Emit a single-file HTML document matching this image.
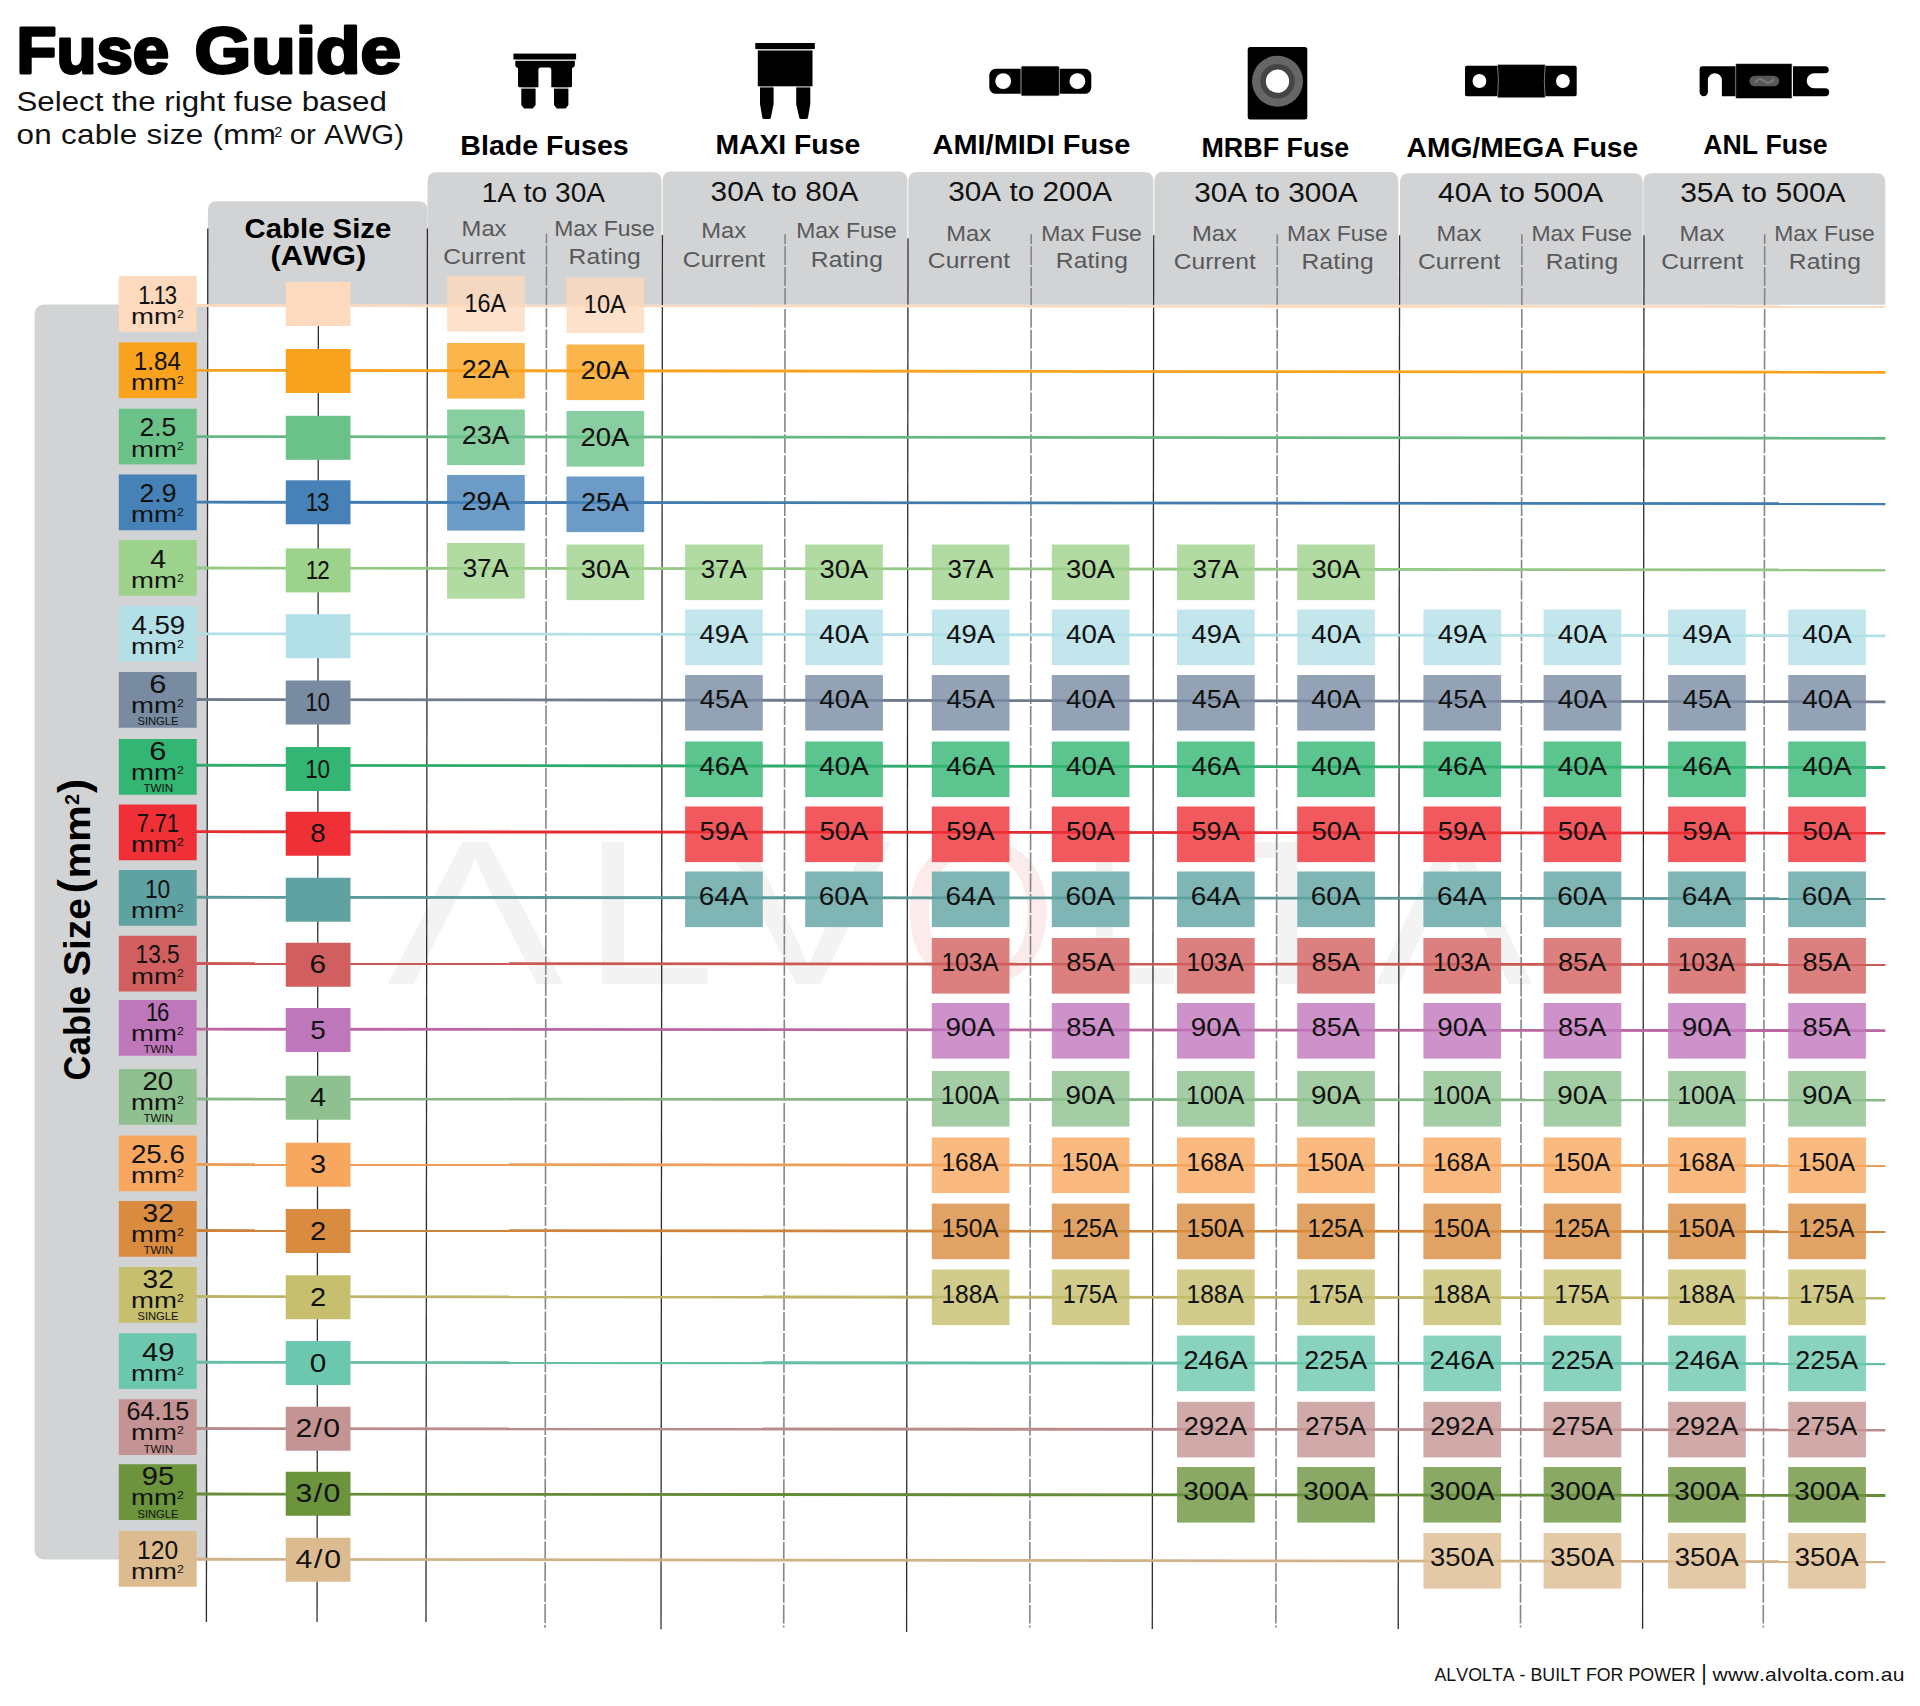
<!DOCTYPE html>
<html lang="en">
<head>
<meta charset="utf-8">
<title>Fuse Guide</title>
<style>
html,body{margin:0;padding:0;background:#fff;}
body{width:1920px;height:1706px;overflow:hidden;font-family:"Liberation Sans",Arial,sans-serif;}
svg text{font-kerning:none;white-space:pre;}
</style>
</head>
<body>
<svg width="1920" height="1706" viewBox="0 0 1920 1706" font-family="'Liberation Sans', Arial, sans-serif" style="display:block;font-kerning:none">
<rect x="0" y="0" width="1920" height="1706" fill="#fff"/>
<g fill="#D1D3D4">
<rect x="34.6" y="304.6" width="173" height="1254.8" rx="9" ry="9"/>
<rect x="190" y="304.6" width="17.6" height="1254.8"/>
<path d="M207.90 304.80 V210.20 Q207.90 201.20 216.90 201.20 H418.50 Q427.50 201.20 427.50 210.20 V304.80 Z"/>
<path d="M427.50 304.80 V181.30 Q427.50 172.30 436.50 172.30 H652.60 Q661.60 172.30 661.60 181.30 V304.80 Z"/>
<path d="M662.70 304.80 V180.50 Q662.70 171.50 671.70 171.50 H898.30 Q907.30 171.50 907.30 180.50 V304.80 Z"/>
<path d="M908.30 304.80 V181.00 Q908.30 172.00 917.30 172.00 H1144.30 Q1153.30 172.00 1153.30 181.00 V304.80 Z"/>
<path d="M1154.30 304.80 V181.00 Q1154.30 172.00 1163.30 172.00 H1389.30 Q1398.30 172.00 1398.30 181.00 V304.80 Z"/>
<path d="M1400.00 304.80 V182.30 Q1400.00 173.30 1409.00 173.30 H1633.70 Q1642.70 173.30 1642.70 182.30 V304.80 Z"/>
<path d="M1643.30 304.80 V182.30 Q1643.30 173.30 1652.30 173.30 H1876.30 Q1885.30 173.30 1885.30 182.30 V304.80 Z"/>
</g>
<text transform="translate(386.20 984.00) scale(1.2918 1)" font-size="206.40" font-weight="400" fill="#F3F3F4">Λ</text>
<text transform="translate(582.37 984.00) scale(1.1593 1)" font-size="206.40" font-weight="400" fill="#F3F3F4">L</text>
<text transform="translate(724.50 984.00) scale(1.2175 1)" font-size="206.40" font-weight="400" fill="#F3F3F4">V</text>
<text transform="translate(900.53 984.00) scale(0.9688 1)" font-size="206.40" font-weight="400" fill="#FCEBEB">O</text>
<text transform="translate(1081.49 984.00) scale(0.8571 1)" font-size="206.40" font-weight="400" fill="#F3F3F4">L</text>
<text transform="translate(1216.67 984.00) scale(1.1071 1)" font-size="206.40" font-weight="400" fill="#F3F3F4">T</text>
<text transform="translate(1374.64 984.00) scale(1.1483 1)" font-size="206.40" font-weight="400" fill="#F3F3F4">Λ</text>
<g stroke="#2e2e30" stroke-width="1.3" fill="none">
<line x1="207.80" y1="228.40" x2="206.40" y2="1622.00"/>
<line x1="318.40" y1="300.00" x2="317.07" y2="1622.00"/>
<line x1="427.40" y1="228.40" x2="426.00" y2="1622.00"/>
<line x1="546.50" y1="233.70" x2="545.10" y2="1627.70" stroke="#85868a" stroke-width="1.6" stroke-dasharray="18.9 2" stroke-dashoffset="9"/>
<line x1="662.40" y1="235.00" x2="661.00" y2="1629.30"/>
<line x1="785.10" y1="234.30" x2="783.70" y2="1627.50" stroke="#85868a" stroke-width="1.6" stroke-dasharray="18.9 2" stroke-dashoffset="9"/>
<line x1="908.00" y1="238.30" x2="906.60" y2="1632.00"/>
<line x1="1031.20" y1="234.30" x2="1029.80" y2="1627.50" stroke="#85868a" stroke-width="1.6" stroke-dasharray="18.9 2" stroke-dashoffset="9"/>
<line x1="1153.70" y1="235.30" x2="1152.30" y2="1629.00"/>
<line x1="1277.30" y1="234.30" x2="1275.90" y2="1627.50" stroke="#85868a" stroke-width="1.6" stroke-dasharray="18.9 2" stroke-dashoffset="9"/>
<line x1="1399.60" y1="235.30" x2="1398.20" y2="1629.00"/>
<line x1="1521.90" y1="234.30" x2="1520.50" y2="1627.50" stroke="#85868a" stroke-width="1.6" stroke-dasharray="18.9 2" stroke-dashoffset="9"/>
<line x1="1644.00" y1="235.30" x2="1642.60" y2="1628.80"/>
<line x1="1764.70" y1="234.30" x2="1763.30" y2="1627.50" stroke="#85868a" stroke-width="1.6" stroke-dasharray="18.9 2" stroke-dashoffset="9"/>
</g>
<g fill="#fff">
<rect x="685.10" y="806.50" width="77.70" height="55.60"/>
<rect x="805.20" y="806.50" width="77.70" height="55.60"/>
<rect x="685.10" y="871.50" width="77.70" height="55.60"/>
<rect x="805.20" y="871.50" width="77.70" height="55.60"/>
<rect x="931.80" y="806.50" width="77.70" height="55.60"/>
<rect x="1051.80" y="806.50" width="77.70" height="55.60"/>
<rect x="931.80" y="871.50" width="77.70" height="55.60"/>
<rect x="1051.80" y="871.50" width="77.70" height="55.60"/>
<rect x="931.80" y="938.00" width="77.70" height="55.60"/>
<rect x="1051.80" y="938.00" width="77.70" height="55.60"/>
<rect x="1177.00" y="806.50" width="77.70" height="55.60"/>
<rect x="1297.20" y="806.50" width="77.70" height="55.60"/>
<rect x="1177.00" y="871.50" width="77.70" height="55.60"/>
<rect x="1297.20" y="871.50" width="77.70" height="55.60"/>
<rect x="1177.00" y="938.00" width="77.70" height="55.60"/>
<rect x="1297.20" y="938.00" width="77.70" height="55.60"/>
<rect x="1423.40" y="806.50" width="77.70" height="55.60"/>
<rect x="1543.60" y="806.50" width="77.70" height="55.60"/>
<rect x="1423.40" y="871.50" width="77.70" height="55.60"/>
<rect x="1543.60" y="871.50" width="77.70" height="55.60"/>
<rect x="1423.40" y="938.00" width="77.70" height="55.60"/>
<rect x="1543.60" y="938.00" width="77.70" height="55.60"/>
<rect x="1668.10" y="806.50" width="77.70" height="55.60"/>
<rect x="1788.20" y="806.50" width="77.70" height="55.60"/>
<rect x="1668.10" y="871.50" width="77.70" height="55.60"/>
<rect x="1788.20" y="871.50" width="77.70" height="55.60"/>
<rect x="1668.10" y="938.00" width="77.70" height="55.60"/>
<rect x="1788.20" y="938.00" width="77.70" height="55.60"/>
</g>
<g stroke-width="2.8" fill="none">
<line x1="196" y1="305.60" x2="1885.4" y2="306.60" stroke="#FDD9BD"/>
<line x1="196" y1="370.40" x2="1885.4" y2="372.25" stroke="#F9A21E"/>
<line x1="196" y1="436.60" x2="1885.4" y2="438.25" stroke="#65B882"/>
<line x1="196" y1="502.20" x2="1885.4" y2="503.75" stroke="#427BAE"/>
<line x1="196" y1="568.00" x2="1885.4" y2="570.00" stroke="#95C785"/>
<line x1="196" y1="633.80" x2="1885.4" y2="635.80" stroke="#B3E0E7"/>
<line x1="196" y1="699.50" x2="1885.4" y2="701.80" stroke="#6F7B8D"/>
<line x1="196" y1="765.25" x2="1885.4" y2="767.50" stroke="#30AB6D"/>
<line x1="196" y1="831.70" x2="1885.4" y2="833.20" stroke="#E32D33"/>
<line x1="196" y1="897.25" x2="1885.4" y2="898.70" stroke="#5A9998"/>
<line x1="196" y1="963.50" x2="1885.4" y2="964.60" stroke="#CB5A57"/>
<line x1="196" y1="1029.20" x2="1885.4" y2="1030.60" stroke="#BA669F"/>
<line x1="196" y1="1099.00" x2="1885.4" y2="1100.00" stroke="#87B687"/>
<line x1="196" y1="1164.50" x2="1885.4" y2="1165.70" stroke="#EB9E5A"/>
<line x1="196" y1="1230.50" x2="1885.4" y2="1231.60" stroke="#CE853B"/>
<line x1="196" y1="1296.50" x2="1885.4" y2="1298.00" stroke="#BCB568"/>
<line x1="196" y1="1362.25" x2="1885.4" y2="1363.75" stroke="#65BEA5"/>
<line x1="196" y1="1428.50" x2="1885.4" y2="1430.00" stroke="#BA8B8B"/>
<line x1="196" y1="1494.00" x2="1885.4" y2="1495.50" stroke="#658C39"/>
<line x1="196" y1="1559.25" x2="1885.4" y2="1561.75" stroke="#D1B188"/>
</g>
<rect x="118.80" y="276.00" width="77.90" height="55.75" fill="#FDD9BD"/>
<rect x="285.75" y="282.00" width="64.75" height="44.00" fill="#FDD9BD"/>
<rect x="118.80" y="342.40" width="77.90" height="55.75" fill="#F9A21E"/>
<rect x="285.75" y="349.00" width="64.75" height="44.00" fill="#F9A21E"/>
<rect x="118.80" y="408.70" width="77.90" height="55.75" fill="#6BC289"/>
<rect x="285.75" y="415.80" width="64.75" height="44.00" fill="#6BC289"/>
<rect x="118.80" y="474.50" width="77.90" height="55.75" fill="#4682B8"/>
<rect x="285.75" y="480.30" width="64.75" height="44.00" fill="#4682B8"/>
<rect x="118.80" y="540.00" width="77.90" height="55.75" fill="#9DD28C"/>
<rect x="285.75" y="548.40" width="64.75" height="44.00" fill="#9DD28C"/>
<rect x="118.80" y="606.00" width="77.90" height="55.75" fill="#B3E0E7"/>
<rect x="285.75" y="614.20" width="64.75" height="44.00" fill="#B3E0E7"/>
<rect x="118.80" y="672.00" width="77.90" height="55.75" fill="#788BA1"/>
<rect x="285.75" y="680.50" width="64.75" height="44.00" fill="#788BA1"/>
<rect x="118.80" y="739.00" width="77.90" height="55.75" fill="#33B573"/>
<rect x="285.75" y="747.00" width="64.75" height="44.00" fill="#33B573"/>
<rect x="118.80" y="804.50" width="77.90" height="55.75" fill="#EF3036"/>
<rect x="285.75" y="811.75" width="64.75" height="44.00" fill="#EF3036"/>
<rect x="118.80" y="870.00" width="77.90" height="55.75" fill="#5FA2A1"/>
<rect x="285.75" y="877.75" width="64.75" height="44.00" fill="#5FA2A1"/>
<rect x="118.80" y="935.75" width="77.90" height="55.75" fill="#D25F5F"/>
<rect x="285.75" y="942.75" width="64.75" height="44.00" fill="#D25F5F"/>
<rect x="118.80" y="1000.00" width="77.90" height="55.75" fill="#BF77BC"/>
<rect x="285.75" y="1008.00" width="64.75" height="44.00" fill="#BF77BC"/>
<rect x="118.80" y="1069.00" width="77.90" height="55.75" fill="#8FC08F"/>
<rect x="285.75" y="1075.75" width="64.75" height="44.00" fill="#8FC08F"/>
<rect x="118.80" y="1135.50" width="77.90" height="55.75" fill="#F8A75F"/>
<rect x="285.75" y="1142.75" width="64.75" height="44.00" fill="#F8A75F"/>
<rect x="118.80" y="1201.00" width="77.90" height="55.75" fill="#D98C3F"/>
<rect x="285.75" y="1209.00" width="64.75" height="44.00" fill="#D98C3F"/>
<rect x="118.80" y="1267.00" width="77.90" height="55.75" fill="#C6BF6E"/>
<rect x="285.75" y="1275.25" width="64.75" height="44.00" fill="#C6BF6E"/>
<rect x="118.80" y="1333.25" width="77.90" height="55.75" fill="#6BC8AE"/>
<rect x="285.75" y="1341.00" width="64.75" height="44.00" fill="#6BC8AE"/>
<rect x="118.80" y="1399.25" width="77.90" height="55.75" fill="#C49393"/>
<rect x="285.75" y="1406.75" width="64.75" height="44.00" fill="#C49393"/>
<rect x="118.80" y="1464.25" width="77.90" height="55.75" fill="#6B943D"/>
<rect x="285.75" y="1471.75" width="64.75" height="44.00" fill="#6B943D"/>
<rect x="118.80" y="1531.00" width="77.90" height="55.75" fill="#DDBB90"/>
<rect x="285.75" y="1537.75" width="64.75" height="44.00" fill="#DDBB90"/>
<g fill-opacity="0.8">
<rect x="447.10" y="276.00" width="77.70" height="55.60" fill="#FDD9BD"/>
<rect x="566.50" y="277.50" width="77.70" height="55.60" fill="#FDD9BD"/>
<rect x="447.10" y="343.00" width="77.70" height="55.60" fill="#F9A21E"/>
<rect x="566.50" y="344.50" width="77.70" height="55.60" fill="#F9A21E"/>
<rect x="447.10" y="409.50" width="77.70" height="55.60" fill="#6BC289"/>
<rect x="566.50" y="411.00" width="77.70" height="55.60" fill="#6BC289"/>
<rect x="447.10" y="475.00" width="77.70" height="55.60" fill="#4682B8"/>
<rect x="566.50" y="476.50" width="77.70" height="55.60" fill="#4682B8"/>
<rect x="447.10" y="543.00" width="77.70" height="55.60" fill="#9DD28C"/>
<rect x="566.50" y="544.50" width="77.70" height="55.60" fill="#9DD28C"/>
<rect x="685.10" y="544.50" width="77.70" height="55.60" fill="#9DD28C"/>
<rect x="805.20" y="544.50" width="77.70" height="55.60" fill="#9DD28C"/>
<rect x="685.10" y="609.50" width="77.70" height="55.60" fill="#B3E0E7"/>
<rect x="805.20" y="609.50" width="77.70" height="55.60" fill="#B3E0E7"/>
<rect x="685.10" y="675.00" width="77.70" height="55.60" fill="#788BA1"/>
<rect x="805.20" y="675.00" width="77.70" height="55.60" fill="#788BA1"/>
<rect x="685.10" y="741.50" width="77.70" height="55.60" fill="#33B573"/>
<rect x="805.20" y="741.50" width="77.70" height="55.60" fill="#33B573"/>
<rect x="685.10" y="806.50" width="77.70" height="55.60" fill="#EF3036"/>
<rect x="805.20" y="806.50" width="77.70" height="55.60" fill="#EF3036"/>
<rect x="685.10" y="871.50" width="77.70" height="55.60" fill="#5FA2A1"/>
<rect x="805.20" y="871.50" width="77.70" height="55.60" fill="#5FA2A1"/>
<rect x="931.80" y="544.50" width="77.70" height="55.60" fill="#9DD28C"/>
<rect x="1051.80" y="544.50" width="77.70" height="55.60" fill="#9DD28C"/>
<rect x="931.80" y="609.50" width="77.70" height="55.60" fill="#B3E0E7"/>
<rect x="1051.80" y="609.50" width="77.70" height="55.60" fill="#B3E0E7"/>
<rect x="931.80" y="675.00" width="77.70" height="55.60" fill="#788BA1"/>
<rect x="1051.80" y="675.00" width="77.70" height="55.60" fill="#788BA1"/>
<rect x="931.80" y="741.50" width="77.70" height="55.60" fill="#33B573"/>
<rect x="1051.80" y="741.50" width="77.70" height="55.60" fill="#33B573"/>
<rect x="931.80" y="806.50" width="77.70" height="55.60" fill="#EF3036"/>
<rect x="1051.80" y="806.50" width="77.70" height="55.60" fill="#EF3036"/>
<rect x="931.80" y="871.50" width="77.70" height="55.60" fill="#5FA2A1"/>
<rect x="1051.80" y="871.50" width="77.70" height="55.60" fill="#5FA2A1"/>
<rect x="931.80" y="938.00" width="77.70" height="55.60" fill="#D25F5F"/>
<rect x="1051.80" y="938.00" width="77.70" height="55.60" fill="#D25F5F"/>
<rect x="931.80" y="1003.00" width="77.70" height="55.60" fill="#BF77BC"/>
<rect x="1051.80" y="1003.00" width="77.70" height="55.60" fill="#BF77BC"/>
<rect x="931.80" y="1071.00" width="77.70" height="55.60" fill="#8FC08F"/>
<rect x="1051.80" y="1071.00" width="77.70" height="55.60" fill="#8FC08F"/>
<rect x="931.80" y="1137.50" width="77.70" height="55.60" fill="#F8A75F"/>
<rect x="1051.80" y="1137.50" width="77.70" height="55.60" fill="#F8A75F"/>
<rect x="931.80" y="1203.60" width="77.70" height="55.60" fill="#D98C3F"/>
<rect x="1051.80" y="1203.60" width="77.70" height="55.60" fill="#D98C3F"/>
<rect x="931.80" y="1269.50" width="77.70" height="55.60" fill="#C6BF6E"/>
<rect x="1051.80" y="1269.50" width="77.70" height="55.60" fill="#C6BF6E"/>
<rect x="1177.00" y="544.50" width="77.70" height="55.60" fill="#9DD28C"/>
<rect x="1297.20" y="544.50" width="77.70" height="55.60" fill="#9DD28C"/>
<rect x="1177.00" y="609.50" width="77.70" height="55.60" fill="#B3E0E7"/>
<rect x="1297.20" y="609.50" width="77.70" height="55.60" fill="#B3E0E7"/>
<rect x="1177.00" y="675.00" width="77.70" height="55.60" fill="#788BA1"/>
<rect x="1297.20" y="675.00" width="77.70" height="55.60" fill="#788BA1"/>
<rect x="1177.00" y="741.50" width="77.70" height="55.60" fill="#33B573"/>
<rect x="1297.20" y="741.50" width="77.70" height="55.60" fill="#33B573"/>
<rect x="1177.00" y="806.50" width="77.70" height="55.60" fill="#EF3036"/>
<rect x="1297.20" y="806.50" width="77.70" height="55.60" fill="#EF3036"/>
<rect x="1177.00" y="871.50" width="77.70" height="55.60" fill="#5FA2A1"/>
<rect x="1297.20" y="871.50" width="77.70" height="55.60" fill="#5FA2A1"/>
<rect x="1177.00" y="938.00" width="77.70" height="55.60" fill="#D25F5F"/>
<rect x="1297.20" y="938.00" width="77.70" height="55.60" fill="#D25F5F"/>
<rect x="1177.00" y="1003.00" width="77.70" height="55.60" fill="#BF77BC"/>
<rect x="1297.20" y="1003.00" width="77.70" height="55.60" fill="#BF77BC"/>
<rect x="1177.00" y="1071.00" width="77.70" height="55.60" fill="#8FC08F"/>
<rect x="1297.20" y="1071.00" width="77.70" height="55.60" fill="#8FC08F"/>
<rect x="1177.00" y="1137.50" width="77.70" height="55.60" fill="#F8A75F"/>
<rect x="1297.20" y="1137.50" width="77.70" height="55.60" fill="#F8A75F"/>
<rect x="1177.00" y="1203.60" width="77.70" height="55.60" fill="#D98C3F"/>
<rect x="1297.20" y="1203.60" width="77.70" height="55.60" fill="#D98C3F"/>
<rect x="1177.00" y="1269.50" width="77.70" height="55.60" fill="#C6BF6E"/>
<rect x="1297.20" y="1269.50" width="77.70" height="55.60" fill="#C6BF6E"/>
<rect x="1177.00" y="1335.60" width="77.70" height="55.60" fill="#6BC8AE"/>
<rect x="1297.20" y="1335.60" width="77.70" height="55.60" fill="#6BC8AE"/>
<rect x="1177.00" y="1401.80" width="77.70" height="55.60" fill="#C49393"/>
<rect x="1297.20" y="1401.80" width="77.70" height="55.60" fill="#C49393"/>
<rect x="1177.00" y="1467.00" width="77.70" height="55.60" fill="#6B943D"/>
<rect x="1297.20" y="1467.00" width="77.70" height="55.60" fill="#6B943D"/>
<rect x="1423.40" y="609.50" width="77.70" height="55.60" fill="#B3E0E7"/>
<rect x="1543.60" y="609.50" width="77.70" height="55.60" fill="#B3E0E7"/>
<rect x="1423.40" y="675.00" width="77.70" height="55.60" fill="#788BA1"/>
<rect x="1543.60" y="675.00" width="77.70" height="55.60" fill="#788BA1"/>
<rect x="1423.40" y="741.50" width="77.70" height="55.60" fill="#33B573"/>
<rect x="1543.60" y="741.50" width="77.70" height="55.60" fill="#33B573"/>
<rect x="1423.40" y="806.50" width="77.70" height="55.60" fill="#EF3036"/>
<rect x="1543.60" y="806.50" width="77.70" height="55.60" fill="#EF3036"/>
<rect x="1423.40" y="871.50" width="77.70" height="55.60" fill="#5FA2A1"/>
<rect x="1543.60" y="871.50" width="77.70" height="55.60" fill="#5FA2A1"/>
<rect x="1423.40" y="938.00" width="77.70" height="55.60" fill="#D25F5F"/>
<rect x="1543.60" y="938.00" width="77.70" height="55.60" fill="#D25F5F"/>
<rect x="1423.40" y="1003.00" width="77.70" height="55.60" fill="#BF77BC"/>
<rect x="1543.60" y="1003.00" width="77.70" height="55.60" fill="#BF77BC"/>
<rect x="1423.40" y="1071.00" width="77.70" height="55.60" fill="#8FC08F"/>
<rect x="1543.60" y="1071.00" width="77.70" height="55.60" fill="#8FC08F"/>
<rect x="1423.40" y="1137.50" width="77.70" height="55.60" fill="#F8A75F"/>
<rect x="1543.60" y="1137.50" width="77.70" height="55.60" fill="#F8A75F"/>
<rect x="1423.40" y="1203.60" width="77.70" height="55.60" fill="#D98C3F"/>
<rect x="1543.60" y="1203.60" width="77.70" height="55.60" fill="#D98C3F"/>
<rect x="1423.40" y="1269.50" width="77.70" height="55.60" fill="#C6BF6E"/>
<rect x="1543.60" y="1269.50" width="77.70" height="55.60" fill="#C6BF6E"/>
<rect x="1423.40" y="1335.60" width="77.70" height="55.60" fill="#6BC8AE"/>
<rect x="1543.60" y="1335.60" width="77.70" height="55.60" fill="#6BC8AE"/>
<rect x="1423.40" y="1401.80" width="77.70" height="55.60" fill="#C49393"/>
<rect x="1543.60" y="1401.80" width="77.70" height="55.60" fill="#C49393"/>
<rect x="1423.40" y="1467.00" width="77.70" height="55.60" fill="#6B943D"/>
<rect x="1543.60" y="1467.00" width="77.70" height="55.60" fill="#6B943D"/>
<rect x="1423.40" y="1533.00" width="77.70" height="55.60" fill="#DDBB90"/>
<rect x="1543.60" y="1533.00" width="77.70" height="55.60" fill="#DDBB90"/>
<rect x="1668.10" y="609.50" width="77.70" height="55.60" fill="#B3E0E7"/>
<rect x="1788.20" y="609.50" width="77.70" height="55.60" fill="#B3E0E7"/>
<rect x="1668.10" y="675.00" width="77.70" height="55.60" fill="#788BA1"/>
<rect x="1788.20" y="675.00" width="77.70" height="55.60" fill="#788BA1"/>
<rect x="1668.10" y="741.50" width="77.70" height="55.60" fill="#33B573"/>
<rect x="1788.20" y="741.50" width="77.70" height="55.60" fill="#33B573"/>
<rect x="1668.10" y="806.50" width="77.70" height="55.60" fill="#EF3036"/>
<rect x="1788.20" y="806.50" width="77.70" height="55.60" fill="#EF3036"/>
<rect x="1668.10" y="871.50" width="77.70" height="55.60" fill="#5FA2A1"/>
<rect x="1788.20" y="871.50" width="77.70" height="55.60" fill="#5FA2A1"/>
<rect x="1668.10" y="938.00" width="77.70" height="55.60" fill="#D25F5F"/>
<rect x="1788.20" y="938.00" width="77.70" height="55.60" fill="#D25F5F"/>
<rect x="1668.10" y="1003.00" width="77.70" height="55.60" fill="#BF77BC"/>
<rect x="1788.20" y="1003.00" width="77.70" height="55.60" fill="#BF77BC"/>
<rect x="1668.10" y="1071.00" width="77.70" height="55.60" fill="#8FC08F"/>
<rect x="1788.20" y="1071.00" width="77.70" height="55.60" fill="#8FC08F"/>
<rect x="1668.10" y="1137.50" width="77.70" height="55.60" fill="#F8A75F"/>
<rect x="1788.20" y="1137.50" width="77.70" height="55.60" fill="#F8A75F"/>
<rect x="1668.10" y="1203.60" width="77.70" height="55.60" fill="#D98C3F"/>
<rect x="1788.20" y="1203.60" width="77.70" height="55.60" fill="#D98C3F"/>
<rect x="1668.10" y="1269.50" width="77.70" height="55.60" fill="#C6BF6E"/>
<rect x="1788.20" y="1269.50" width="77.70" height="55.60" fill="#C6BF6E"/>
<rect x="1668.10" y="1335.60" width="77.70" height="55.60" fill="#6BC8AE"/>
<rect x="1788.20" y="1335.60" width="77.70" height="55.60" fill="#6BC8AE"/>
<rect x="1668.10" y="1401.80" width="77.70" height="55.60" fill="#C49393"/>
<rect x="1788.20" y="1401.80" width="77.70" height="55.60" fill="#C49393"/>
<rect x="1668.10" y="1467.00" width="77.70" height="55.60" fill="#6B943D"/>
<rect x="1788.20" y="1467.00" width="77.70" height="55.60" fill="#6B943D"/>
<rect x="1668.10" y="1533.00" width="77.70" height="55.60" fill="#DDBB90"/>
<rect x="1788.20" y="1533.00" width="77.70" height="55.60" fill="#DDBB90"/>
</g>
<g fill="#c9c9cb"><rect x="515.6" y="59" width="59" height="2.4"/><rect x="521.6" y="86.8" width="13.7" height="2.4"/><rect x="554.3" y="86.8" width="13.8" height="2.4"/><rect x="758" y="48.6" width="54.3" height="2.4"/><rect x="760.3" y="86" width="13" height="2"/><rect x="796.5" y="86" width="13.5" height="2"/></g>
<g fill="#000">
<rect x="513.4" y="53.6" width="62.7" height="5.8"/>
<path d="M515.3 61 H574.8 V65.5 Q574.8 67.3 572 68 V85.7 Q572 87.2 570.5 87.2 H551.3 V69.7 Q551.3 67.5 549.1 67.5 H540.6 Q538.4 67.5 538.4 69.7 V87.2 H519.5 Q518 87.2 518 85.7 V68 Q515.3 67.3 515.3 65.5 Z"/>
<path d="M521.3 88.7 H535.6 V105 L532.8 108.4 H524.1 L521.3 105 Z"/>
<path d="M554 88.7 H568.4 V105 L565.6 108.4 H556.8 L554 105 Z"/>
<rect x="755.3" y="43" width="59.5" height="6"/>
<rect x="757.8" y="50.6" width="54.7" height="35.7"/>
<path d="M760 87.5 H773.6 V104 L770.9 117.4 Q770.6 119 769 119 H764.2 Q762.6 119 762.3 117.4 L760 104 Z"/>
<path d="M796.2 87.5 H810.3 V104 L808 117.4 Q807.7 119 806.1 119 H801.1 Q799.5 119 799.2 117.4 L796.2 104 Z"/>
<rect x="989.3" y="68.8" width="102" height="25" rx="6.5"/>
<circle cx="1003.2" cy="81.2" r="7.9" fill="#fff"/><circle cx="1077.4" cy="81.2" r="7.9" fill="#fff"/>
<rect x="1021" y="66" width="38.4" height="30" rx="1.5" stroke="#ddd" stroke-width="0.7"/>
<rect x="1247.7" y="47" width="59.6" height="72.6" rx="2.5"/>
<circle cx="1277.5" cy="81.2" r="25.5" fill="#666668"/><circle cx="1277.5" cy="81.2" r="17.3" fill="#454547"/><circle cx="1277.5" cy="81.2" r="11.6" fill="#fff"/>
<rect x="1465" y="65.8" width="111.7" height="30.5" rx="1.8"/>
<circle cx="1479.4" cy="81" r="6.9" fill="#fff"/><circle cx="1562.9" cy="81" r="6.9" fill="#fff"/>
<path d="M1497.5 64.6 H1545.2 Q1543.4 81 1545.2 97.7 H1497.5 Q1499.3 81 1497.5 64.6 Z" stroke="#ccc" stroke-width="0.6"/>
<path d="M1702.6 66.25 H1736 V96.25 H1721.9 V80.3 A7 7 0 0 0 1707.9 80.3 V92.1 A4.15 4.15 0 0 1 1699.6 92.1 V69.25 Q1699.6 66.25 1702.6 66.25 Z"/>
<rect x="1735.8" y="63.75" width="56.2" height="34.6" stroke="#ccc" stroke-width="0.6"/>
<rect x="1749.4" y="75.8" width="29.8" height="10.5" rx="5.2" fill="#58585a"/>
<path d="M1755 83 Q1759 76.5 1764 81 T1774 79" stroke="#77777a" stroke-width="2.2" fill="none"/>
<path d="M1793 66.25 H1825.2 A3.52 3.52 0 0 1 1825.2 73.3 H1814.2 A7.5 7.5 0 0 0 1814.2 88.3 H1825.2 A3.97 3.97 0 0 1 1825.2 96.25 H1793 Z"/>
</g>
<text transform="translate(16.52 73.00) scale(1.0184 1)" font-size="64.25" font-weight="700" fill="#000" stroke="#000" stroke-width="2.8" stroke-linejoin="round">Fuse</text>
<text transform="translate(194.41 73.00) scale(1.1354 1)" font-size="64.25" font-weight="700" fill="#000" stroke="#000" stroke-width="2.8" stroke-linejoin="round">Guide</text>
<text transform="translate(16.48 110.80) scale(1.1575 1)" font-size="27.04" font-weight="400" fill="#111">Select the right fuse based</text>
<text transform="translate(16.58 143.60) scale(1.1600 1)" font-size="27.04" font-weight="400" fill="#111" letter-spacing="0.266">on cable size (mm</text>
<text transform="translate(274.27 136.70) scale(0.9967 1)" font-size="14.54" font-weight="400" fill="#111">2</text>
<text transform="translate(289.77 143.60) scale(1.0868 1)" font-size="27.04" font-weight="400" fill="#111">or AWG)</text>
<text transform="translate(460.29 155.10) scale(1.0411 1)" font-size="27.47" font-weight="700" fill="#000">Blade Fuses</text>
<text transform="translate(481.66 201.90) scale(1.0448 1)" font-size="26.89" font-weight="400" fill="#111">1A to 30A</text>
<text transform="translate(461.60 235.50) scale(1.1201 1)" font-size="21.22" font-weight="400" fill="#58595B">Max</text>
<text transform="translate(443.25 264.00) scale(1.1600 1)" font-size="21.22" font-weight="400" fill="#58595B" letter-spacing="0.021">Current</text>
<text transform="translate(554.17 235.50) scale(1.0798 1)" font-size="21.22" font-weight="400" fill="#58595B">Max Fuse</text>
<text transform="translate(568.53 264.00) scale(1.1600 1)" font-size="21.22" font-weight="400" fill="#58595B" letter-spacing="0.198">Rating</text>
<text transform="translate(715.40 154.00) scale(1.0316 1)" font-size="27.47" font-weight="700" fill="#000">MAXI Fuse</text>
<text transform="translate(710.56 201.00) scale(1.1108 1)" font-size="26.89" font-weight="400" fill="#111">30A to 80A</text>
<text transform="translate(701.20 238.30) scale(1.1201 1)" font-size="21.22" font-weight="400" fill="#58595B">Max</text>
<text transform="translate(682.85 266.70) scale(1.1600 1)" font-size="21.22" font-weight="400" fill="#58595B" letter-spacing="0.021">Current</text>
<text transform="translate(796.27 238.30) scale(1.0798 1)" font-size="21.22" font-weight="400" fill="#58595B">Max Fuse</text>
<text transform="translate(810.63 266.70) scale(1.1600 1)" font-size="21.22" font-weight="400" fill="#58595B" letter-spacing="0.198">Rating</text>
<text transform="translate(932.58 154.00) scale(1.0532 1)" font-size="27.47" font-weight="700" fill="#000">AMI/MIDI Fuse</text>
<text transform="translate(948.22 201.00) scale(1.1073 1)" font-size="26.89" font-weight="400" fill="#111">30A to 200A</text>
<text transform="translate(946.20 240.70) scale(1.1201 1)" font-size="21.22" font-weight="400" fill="#58595B">Max</text>
<text transform="translate(927.85 268.30) scale(1.1600 1)" font-size="21.22" font-weight="400" fill="#58595B" letter-spacing="0.021">Current</text>
<text transform="translate(1041.27 240.70) scale(1.0798 1)" font-size="21.22" font-weight="400" fill="#58595B">Max Fuse</text>
<text transform="translate(1055.63 268.30) scale(1.1600 1)" font-size="21.22" font-weight="400" fill="#58595B" letter-spacing="0.198">Rating</text>
<text transform="translate(1201.50 156.70) scale(0.9776 1)" font-size="27.47" font-weight="700" fill="#000">MRBF Fuse</text>
<text transform="translate(1194.17 201.70) scale(1.1052 1)" font-size="26.89" font-weight="400" fill="#111">30A to 300A</text>
<text transform="translate(1192.00 241.00) scale(1.1201 1)" font-size="21.22" font-weight="400" fill="#58595B">Max</text>
<text transform="translate(1173.65 268.50) scale(1.1600 1)" font-size="21.22" font-weight="400" fill="#58595B" letter-spacing="0.021">Current</text>
<text transform="translate(1287.07 241.00) scale(1.0798 1)" font-size="21.22" font-weight="400" fill="#58595B">Max Fuse</text>
<text transform="translate(1301.43 268.50) scale(1.1600 1)" font-size="21.22" font-weight="400" fill="#58595B" letter-spacing="0.198">Rating</text>
<text transform="translate(1406.60 157.00) scale(1.0256 1)" font-size="27.47" font-weight="700" fill="#000">AMG/MEGA Fuse</text>
<text transform="translate(1438.01 201.50) scale(1.1171 1)" font-size="26.89" font-weight="400" fill="#111">40A to 500A</text>
<text transform="translate(1436.40 241.30) scale(1.1201 1)" font-size="21.22" font-weight="400" fill="#58595B">Max</text>
<text transform="translate(1418.05 269.30) scale(1.1600 1)" font-size="21.22" font-weight="400" fill="#58595B" letter-spacing="0.021">Current</text>
<text transform="translate(1531.47 241.30) scale(1.0798 1)" font-size="21.22" font-weight="400" fill="#58595B">Max Fuse</text>
<text transform="translate(1545.83 269.30) scale(1.1600 1)" font-size="21.22" font-weight="400" fill="#58595B" letter-spacing="0.198">Rating</text>
<text transform="translate(1703.29 154.00) scale(0.9693 1)" font-size="27.47" font-weight="700" fill="#000">ANL Fuse</text>
<text transform="translate(1680.15 201.50) scale(1.1189 1)" font-size="26.89" font-weight="400" fill="#111">35A to 500A</text>
<text transform="translate(1679.50 241.30) scale(1.1201 1)" font-size="21.22" font-weight="400" fill="#58595B">Max</text>
<text transform="translate(1661.15 269.30) scale(1.1600 1)" font-size="21.22" font-weight="400" fill="#58595B" letter-spacing="0.021">Current</text>
<text transform="translate(1774.27 241.30) scale(1.0798 1)" font-size="21.22" font-weight="400" fill="#58595B">Max Fuse</text>
<text transform="translate(1788.63 269.30) scale(1.1600 1)" font-size="21.22" font-weight="400" fill="#58595B" letter-spacing="0.198">Rating</text>
<text transform="translate(244.60 238.40) scale(1.0676 1)" font-size="27.47" font-weight="700" fill="#000">Cable Size</text>
<text transform="translate(270.46 264.60) scale(1.1222 1)" font-size="27.47" font-weight="700" fill="#000">(AWG)</text>
<text transform="translate(138.26 303.70) scale(0.8600 1)" font-size="25.73" font-weight="400" fill="#111" letter-spacing="-1.669">1.13</text>
<text transform="translate(130.97 323.90) scale(1.3000 1)" font-size="21.20" font-weight="400" fill="#111" letter-spacing="0.024">mm</text>
<text transform="translate(176.98 317.70) scale(1.1128 1)" font-size="11.05" font-weight="400" fill="#111">2</text>
<text transform="translate(133.85 370.10) scale(0.9417 1)" font-size="25.73" font-weight="400" fill="#111">1.84</text>
<text transform="translate(130.97 390.30) scale(1.3000 1)" font-size="21.20" font-weight="400" fill="#111" letter-spacing="0.024">mm</text>
<text transform="translate(176.98 384.10) scale(1.1128 1)" font-size="11.05" font-weight="400" fill="#111">2</text>
<text transform="translate(139.52 436.40) scale(1.0273 1)" font-size="25.73" font-weight="400" fill="#111">2.5</text>
<text transform="translate(130.97 456.60) scale(1.3000 1)" font-size="21.20" font-weight="400" fill="#111" letter-spacing="0.024">mm</text>
<text transform="translate(176.98 450.40) scale(1.1128 1)" font-size="11.05" font-weight="400" fill="#111">2</text>
<text transform="translate(139.52 502.20) scale(1.0315 1)" font-size="25.73" font-weight="400" fill="#111">2.9</text>
<text transform="translate(130.97 522.40) scale(1.3000 1)" font-size="21.20" font-weight="400" fill="#111" letter-spacing="0.024">mm</text>
<text transform="translate(176.98 516.20) scale(1.1128 1)" font-size="11.05" font-weight="400" fill="#111">2</text>
<text transform="translate(305.80 510.80) scale(0.8600 1)" font-size="26.02" font-weight="400" fill="#111" letter-spacing="-1.396">13</text>
<text transform="translate(150.14 567.70) scale(1.1108 1)" font-size="25.73" font-weight="400" fill="#111">4</text>
<text transform="translate(130.97 587.90) scale(1.3000 1)" font-size="21.20" font-weight="400" fill="#111" letter-spacing="0.024">mm</text>
<text transform="translate(176.98 581.70) scale(1.1128 1)" font-size="11.05" font-weight="400" fill="#111">2</text>
<text transform="translate(305.80 578.90) scale(0.8600 1)" font-size="26.02" font-weight="400" fill="#111" letter-spacing="-1.231">12</text>
<text transform="translate(131.42 633.70) scale(1.0753 1)" font-size="25.73" font-weight="400" fill="#111">4.59</text>
<text transform="translate(130.97 653.90) scale(1.3000 1)" font-size="21.20" font-weight="400" fill="#111" letter-spacing="0.024">mm</text>
<text transform="translate(176.98 647.70) scale(1.1128 1)" font-size="11.05" font-weight="400" fill="#111">2</text>
<text transform="translate(149.34 692.90) scale(1.1962 1)" font-size="25.73" font-weight="400" fill="#111">6</text>
<text transform="translate(130.97 713.20) scale(1.3000 1)" font-size="21.20" font-weight="400" fill="#111" letter-spacing="0.024">mm</text>
<text transform="translate(176.98 707.00) scale(1.1128 1)" font-size="11.05" font-weight="400" fill="#111">2</text>
<text transform="translate(137.49 725.40) scale(1.0389 1)" font-size="10.76" font-weight="400" fill="#111">SINGLE</text>
<text transform="translate(305.30 711.00) scale(0.8600 1)" font-size="26.02" font-weight="400" fill="#111" letter-spacing="-0.360">10</text>
<text transform="translate(149.34 759.90) scale(1.1962 1)" font-size="25.73" font-weight="400" fill="#111">6</text>
<text transform="translate(130.97 780.20) scale(1.3000 1)" font-size="21.20" font-weight="400" fill="#111" letter-spacing="0.024">mm</text>
<text transform="translate(176.98 774.00) scale(1.1128 1)" font-size="11.05" font-weight="400" fill="#111">2</text>
<text transform="translate(143.44 792.40) scale(1.0850 1)" font-size="10.76" font-weight="400" fill="#111">TWIN</text>
<text transform="translate(305.30 777.50) scale(0.8600 1)" font-size="26.02" font-weight="400" fill="#111" letter-spacing="-0.360">10</text>
<text transform="translate(136.87 832.20) scale(0.8600 1)" font-size="25.73" font-weight="400" fill="#111" letter-spacing="-0.329">7.71</text>
<text transform="translate(130.97 852.40) scale(1.3000 1)" font-size="21.20" font-weight="400" fill="#111" letter-spacing="0.024">mm</text>
<text transform="translate(176.98 846.20) scale(1.1128 1)" font-size="11.05" font-weight="400" fill="#111">2</text>
<text transform="translate(310.30 842.25) scale(1.0648 1)" font-size="26.02" font-weight="400" fill="#111">8</text>
<text transform="translate(144.92 897.70) scale(0.8849 1)" font-size="25.73" font-weight="400" fill="#111">10</text>
<text transform="translate(130.97 917.90) scale(1.3000 1)" font-size="21.20" font-weight="400" fill="#111" letter-spacing="0.024">mm</text>
<text transform="translate(176.98 911.70) scale(1.1128 1)" font-size="11.05" font-weight="400" fill="#111">2</text>
<text transform="translate(135.52 963.45) scale(0.8824 1)" font-size="25.73" font-weight="400" fill="#111">13.5</text>
<text transform="translate(130.97 983.65) scale(1.3000 1)" font-size="21.20" font-weight="400" fill="#111" letter-spacing="0.024">mm</text>
<text transform="translate(176.98 977.45) scale(1.1128 1)" font-size="11.05" font-weight="400" fill="#111">2</text>
<text transform="translate(309.61 973.25) scale(1.1453 1)" font-size="26.02" font-weight="400" fill="#111">6</text>
<text transform="translate(145.91 1020.90) scale(0.8600 1)" font-size="25.73" font-weight="400" fill="#111" letter-spacing="-1.340">16</text>
<text transform="translate(130.97 1041.20) scale(1.3000 1)" font-size="21.20" font-weight="400" fill="#111" letter-spacing="0.024">mm</text>
<text transform="translate(176.98 1035.00) scale(1.1128 1)" font-size="11.05" font-weight="400" fill="#111">2</text>
<text transform="translate(143.44 1053.40) scale(1.0850 1)" font-size="10.76" font-weight="400" fill="#111">TWIN</text>
<text transform="translate(310.26 1038.50) scale(1.0741 1)" font-size="26.02" font-weight="400" fill="#111">5</text>
<text transform="translate(142.46 1089.90) scale(1.0753 1)" font-size="25.73" font-weight="400" fill="#111">20</text>
<text transform="translate(130.97 1110.20) scale(1.3000 1)" font-size="21.20" font-weight="400" fill="#111" letter-spacing="0.024">mm</text>
<text transform="translate(176.98 1104.00) scale(1.1128 1)" font-size="11.05" font-weight="400" fill="#111">2</text>
<text transform="translate(143.44 1122.40) scale(1.0850 1)" font-size="10.76" font-weight="400" fill="#111">TWIN</text>
<text transform="translate(310.09 1106.25) scale(1.1060 1)" font-size="26.02" font-weight="400" fill="#111">4</text>
<text transform="translate(130.98 1163.20) scale(1.0756 1)" font-size="25.73" font-weight="400" fill="#111">25.6</text>
<text transform="translate(130.97 1183.40) scale(1.3000 1)" font-size="21.20" font-weight="400" fill="#111" letter-spacing="0.024">mm</text>
<text transform="translate(176.98 1177.20) scale(1.1128 1)" font-size="11.05" font-weight="400" fill="#111">2</text>
<text transform="translate(310.02 1173.25) scale(1.1147 1)" font-size="26.02" font-weight="400" fill="#111">3</text>
<text transform="translate(142.56 1221.90) scale(1.0914 1)" font-size="25.73" font-weight="400" fill="#111">32</text>
<text transform="translate(130.97 1242.20) scale(1.3000 1)" font-size="21.20" font-weight="400" fill="#111" letter-spacing="0.024">mm</text>
<text transform="translate(176.98 1236.00) scale(1.1128 1)" font-size="11.05" font-weight="400" fill="#111">2</text>
<text transform="translate(143.44 1254.40) scale(1.0850 1)" font-size="10.76" font-weight="400" fill="#111">TWIN</text>
<text transform="translate(309.91 1239.50) scale(1.1179 1)" font-size="26.02" font-weight="400" fill="#111">2</text>
<text transform="translate(142.56 1287.90) scale(1.0914 1)" font-size="25.73" font-weight="400" fill="#111">32</text>
<text transform="translate(130.97 1308.20) scale(1.3000 1)" font-size="21.20" font-weight="400" fill="#111" letter-spacing="0.024">mm</text>
<text transform="translate(176.98 1302.00) scale(1.1128 1)" font-size="11.05" font-weight="400" fill="#111">2</text>
<text transform="translate(137.49 1320.40) scale(1.0389 1)" font-size="10.76" font-weight="400" fill="#111">SINGLE</text>
<text transform="translate(309.91 1305.75) scale(1.1179 1)" font-size="26.02" font-weight="400" fill="#111">2</text>
<text transform="translate(142.08 1360.95) scale(1.1377 1)" font-size="25.73" font-weight="400" fill="#111">49</text>
<text transform="translate(130.97 1381.15) scale(1.3000 1)" font-size="21.20" font-weight="400" fill="#111" letter-spacing="0.024">mm</text>
<text transform="translate(176.98 1374.95) scale(1.1128 1)" font-size="11.05" font-weight="400" fill="#111">2</text>
<text transform="translate(309.71 1371.50) scale(1.1458 1)" font-size="26.02" font-weight="400" fill="#111">0</text>
<text transform="translate(126.48 1420.15) scale(0.9759 1)" font-size="25.73" font-weight="400" fill="#111">64.15</text>
<text transform="translate(130.97 1440.45) scale(1.3000 1)" font-size="21.20" font-weight="400" fill="#111" letter-spacing="0.024">mm</text>
<text transform="translate(176.98 1434.25) scale(1.1128 1)" font-size="11.05" font-weight="400" fill="#111">2</text>
<text transform="translate(143.44 1452.65) scale(1.0850 1)" font-size="10.76" font-weight="400" fill="#111">TWIN</text>
<text transform="translate(295.48 1437.25) scale(1.1600 1)" font-size="26.02" font-weight="400" fill="#111" letter-spacing="1.182">2/0</text>
<text transform="translate(141.76 1485.15) scale(1.1299 1)" font-size="25.73" font-weight="400" fill="#111">95</text>
<text transform="translate(130.97 1505.45) scale(1.3000 1)" font-size="21.20" font-weight="400" fill="#111" letter-spacing="0.024">mm</text>
<text transform="translate(176.98 1499.25) scale(1.1128 1)" font-size="11.05" font-weight="400" fill="#111">2</text>
<text transform="translate(137.49 1517.65) scale(1.0389 1)" font-size="10.76" font-weight="400" fill="#111">SINGLE</text>
<text transform="translate(295.60 1502.25) scale(1.1600 1)" font-size="26.02" font-weight="400" fill="#111" letter-spacing="1.238">3/0</text>
<text transform="translate(137.00 1558.70) scale(0.9572 1)" font-size="25.73" font-weight="400" fill="#111">120</text>
<text transform="translate(130.97 1578.90) scale(1.3000 1)" font-size="21.20" font-weight="400" fill="#111" letter-spacing="0.024">mm</text>
<text transform="translate(176.98 1572.70) scale(1.1128 1)" font-size="11.05" font-weight="400" fill="#111">2</text>
<text transform="translate(295.43 1568.25) scale(1.1600 1)" font-size="26.02" font-weight="400" fill="#111" letter-spacing="1.580">4/0</text>
<text transform="translate(464.61 311.50) scale(0.9076 1)" font-size="25.73" font-weight="400" fill="#111">16A</text>
<text transform="translate(583.74 313.00) scale(0.9191 1)" font-size="25.73" font-weight="400" fill="#111">10A</text>
<text transform="translate(461.82 377.90) scale(1.0392 1)" font-size="25.73" font-weight="400" fill="#111">22A</text>
<text transform="translate(580.55 379.40) scale(1.0676 1)" font-size="25.73" font-weight="400" fill="#111">20A</text>
<text transform="translate(461.69 444.40) scale(1.0449 1)" font-size="25.73" font-weight="400" fill="#111">23A</text>
<text transform="translate(580.55 445.90) scale(1.0676 1)" font-size="25.73" font-weight="400" fill="#111">20A</text>
<text transform="translate(461.42 509.90) scale(1.0563 1)" font-size="25.73" font-weight="400" fill="#111">29A</text>
<text transform="translate(581.09 511.40) scale(1.0449 1)" font-size="25.73" font-weight="400" fill="#111">25A</text>
<text transform="translate(462.68 576.50) scale(1.0093 1)" font-size="25.73" font-weight="400" fill="#111">37A</text>
<text transform="translate(580.76 578.00) scale(1.0658 1)" font-size="25.73" font-weight="400" fill="#111">30A</text>
<text transform="translate(700.68 577.80) scale(1.0093 1)" font-size="25.73" font-weight="400" fill="#111">37A</text>
<text transform="translate(819.46 577.80) scale(1.0658 1)" font-size="25.73" font-weight="400" fill="#111">30A</text>
<text transform="translate(699.52 642.80) scale(1.0678 1)" font-size="25.73" font-weight="400" fill="#111">49A</text>
<text transform="translate(819.36 642.80) scale(1.0790 1)" font-size="25.73" font-weight="400" fill="#111">40A</text>
<text transform="translate(699.78 708.30) scale(1.0566 1)" font-size="25.73" font-weight="400" fill="#111">45A</text>
<text transform="translate(819.36 708.30) scale(1.0790 1)" font-size="25.73" font-weight="400" fill="#111">40A</text>
<text transform="translate(699.52 774.80) scale(1.0678 1)" font-size="25.73" font-weight="400" fill="#111">46A</text>
<text transform="translate(819.36 774.80) scale(1.0790 1)" font-size="25.73" font-weight="400" fill="#111">40A</text>
<text transform="translate(699.57 839.80) scale(1.0557 1)" font-size="25.73" font-weight="400" fill="#111">59A</text>
<text transform="translate(819.41 839.80) scale(1.0670 1)" font-size="25.73" font-weight="400" fill="#111">50A</text>
<text transform="translate(698.73 904.80) scale(1.0850 1)" font-size="25.73" font-weight="400" fill="#111">64A</text>
<text transform="translate(818.83 904.80) scale(1.0850 1)" font-size="25.73" font-weight="400" fill="#111">60A</text>
<text transform="translate(947.38 577.80) scale(1.0093 1)" font-size="25.73" font-weight="400" fill="#111">37A</text>
<text transform="translate(1066.06 577.80) scale(1.0658 1)" font-size="25.73" font-weight="400" fill="#111">30A</text>
<text transform="translate(946.22 642.80) scale(1.0678 1)" font-size="25.73" font-weight="400" fill="#111">49A</text>
<text transform="translate(1065.96 642.80) scale(1.0790 1)" font-size="25.73" font-weight="400" fill="#111">40A</text>
<text transform="translate(946.48 708.30) scale(1.0566 1)" font-size="25.73" font-weight="400" fill="#111">45A</text>
<text transform="translate(1065.96 708.30) scale(1.0790 1)" font-size="25.73" font-weight="400" fill="#111">40A</text>
<text transform="translate(946.22 774.80) scale(1.0678 1)" font-size="25.73" font-weight="400" fill="#111">46A</text>
<text transform="translate(1065.96 774.80) scale(1.0790 1)" font-size="25.73" font-weight="400" fill="#111">40A</text>
<text transform="translate(946.27 839.80) scale(1.0557 1)" font-size="25.73" font-weight="400" fill="#111">59A</text>
<text transform="translate(1066.01 839.80) scale(1.0670 1)" font-size="25.73" font-weight="400" fill="#111">50A</text>
<text transform="translate(945.43 904.80) scale(1.0850 1)" font-size="25.73" font-weight="400" fill="#111">64A</text>
<text transform="translate(1065.43 904.80) scale(1.0850 1)" font-size="25.73" font-weight="400" fill="#111">60A</text>
<text transform="translate(941.38 971.30) scale(0.9541 1)" font-size="25.73" font-weight="400" fill="#111">103A</text>
<text transform="translate(1066.18 971.30) scale(1.0578 1)" font-size="25.73" font-weight="400" fill="#111">85A</text>
<text transform="translate(945.55 1036.30) scale(1.0826 1)" font-size="25.73" font-weight="400" fill="#111">90A</text>
<text transform="translate(1066.18 1036.30) scale(1.0578 1)" font-size="25.73" font-weight="400" fill="#111">85A</text>
<text transform="translate(940.84 1104.30) scale(0.9715 1)" font-size="25.73" font-weight="400" fill="#111">100A</text>
<text transform="translate(1065.55 1104.30) scale(1.0826 1)" font-size="25.73" font-weight="400" fill="#111">90A</text>
<text transform="translate(941.38 1170.80) scale(0.9541 1)" font-size="25.73" font-weight="400" fill="#111">168A</text>
<text transform="translate(1061.38 1170.80) scale(0.9541 1)" font-size="25.73" font-weight="400" fill="#111">150A</text>
<text transform="translate(941.38 1236.90) scale(0.9541 1)" font-size="25.73" font-weight="400" fill="#111">150A</text>
<text transform="translate(1062.05 1236.90) scale(0.9323 1)" font-size="25.73" font-weight="400" fill="#111">125A</text>
<text transform="translate(941.38 1302.80) scale(0.9541 1)" font-size="25.73" font-weight="400" fill="#111">188A</text>
<text transform="translate(1062.73 1302.80) scale(0.9105 1)" font-size="25.73" font-weight="400" fill="#111">175A</text>
<text transform="translate(1192.58 577.80) scale(1.0093 1)" font-size="25.73" font-weight="400" fill="#111">37A</text>
<text transform="translate(1311.46 577.80) scale(1.0658 1)" font-size="25.73" font-weight="400" fill="#111">30A</text>
<text transform="translate(1191.42 642.80) scale(1.0678 1)" font-size="25.73" font-weight="400" fill="#111">49A</text>
<text transform="translate(1311.36 642.80) scale(1.0790 1)" font-size="25.73" font-weight="400" fill="#111">40A</text>
<text transform="translate(1191.68 708.30) scale(1.0566 1)" font-size="25.73" font-weight="400" fill="#111">45A</text>
<text transform="translate(1311.36 708.30) scale(1.0790 1)" font-size="25.73" font-weight="400" fill="#111">40A</text>
<text transform="translate(1191.42 774.80) scale(1.0678 1)" font-size="25.73" font-weight="400" fill="#111">46A</text>
<text transform="translate(1311.36 774.80) scale(1.0790 1)" font-size="25.73" font-weight="400" fill="#111">40A</text>
<text transform="translate(1191.47 839.80) scale(1.0557 1)" font-size="25.73" font-weight="400" fill="#111">59A</text>
<text transform="translate(1311.41 839.80) scale(1.0670 1)" font-size="25.73" font-weight="400" fill="#111">50A</text>
<text transform="translate(1190.63 904.80) scale(1.0850 1)" font-size="25.73" font-weight="400" fill="#111">64A</text>
<text transform="translate(1310.83 904.80) scale(1.0850 1)" font-size="25.73" font-weight="400" fill="#111">60A</text>
<text transform="translate(1186.58 971.30) scale(0.9541 1)" font-size="25.73" font-weight="400" fill="#111">103A</text>
<text transform="translate(1311.58 971.30) scale(1.0578 1)" font-size="25.73" font-weight="400" fill="#111">85A</text>
<text transform="translate(1190.75 1036.30) scale(1.0826 1)" font-size="25.73" font-weight="400" fill="#111">90A</text>
<text transform="translate(1311.58 1036.30) scale(1.0578 1)" font-size="25.73" font-weight="400" fill="#111">85A</text>
<text transform="translate(1186.04 1104.30) scale(0.9715 1)" font-size="25.73" font-weight="400" fill="#111">100A</text>
<text transform="translate(1310.95 1104.30) scale(1.0826 1)" font-size="25.73" font-weight="400" fill="#111">90A</text>
<text transform="translate(1186.58 1170.80) scale(0.9541 1)" font-size="25.73" font-weight="400" fill="#111">168A</text>
<text transform="translate(1306.78 1170.80) scale(0.9541 1)" font-size="25.73" font-weight="400" fill="#111">150A</text>
<text transform="translate(1186.58 1236.90) scale(0.9541 1)" font-size="25.73" font-weight="400" fill="#111">150A</text>
<text transform="translate(1307.45 1236.90) scale(0.9323 1)" font-size="25.73" font-weight="400" fill="#111">125A</text>
<text transform="translate(1186.58 1302.80) scale(0.9541 1)" font-size="25.73" font-weight="400" fill="#111">188A</text>
<text transform="translate(1308.13 1302.80) scale(0.9105 1)" font-size="25.73" font-weight="400" fill="#111">175A</text>
<text transform="translate(1183.20 1368.90) scale(1.0746 1)" font-size="25.73" font-weight="400" fill="#111">246A</text>
<text transform="translate(1304.32 1368.90) scale(1.0445 1)" font-size="25.73" font-weight="400" fill="#111">225A</text>
<text transform="translate(1183.86 1435.10) scale(1.0531 1)" font-size="25.73" font-weight="400" fill="#111">292A</text>
<text transform="translate(1304.98 1435.10) scale(1.0229 1)" font-size="25.73" font-weight="400" fill="#111">275A</text>
<text transform="translate(1183.15 1500.30) scale(1.0818 1)" font-size="25.73" font-weight="400" fill="#111">300A</text>
<text transform="translate(1303.35 1500.30) scale(1.0818 1)" font-size="25.73" font-weight="400" fill="#111">300A</text>
<text transform="translate(1437.82 642.80) scale(1.0678 1)" font-size="25.73" font-weight="400" fill="#111">49A</text>
<text transform="translate(1557.76 642.80) scale(1.0790 1)" font-size="25.73" font-weight="400" fill="#111">40A</text>
<text transform="translate(1438.08 708.30) scale(1.0566 1)" font-size="25.73" font-weight="400" fill="#111">45A</text>
<text transform="translate(1557.76 708.30) scale(1.0790 1)" font-size="25.73" font-weight="400" fill="#111">40A</text>
<text transform="translate(1437.82 774.80) scale(1.0678 1)" font-size="25.73" font-weight="400" fill="#111">46A</text>
<text transform="translate(1557.76 774.80) scale(1.0790 1)" font-size="25.73" font-weight="400" fill="#111">40A</text>
<text transform="translate(1437.87 839.80) scale(1.0557 1)" font-size="25.73" font-weight="400" fill="#111">59A</text>
<text transform="translate(1557.81 839.80) scale(1.0670 1)" font-size="25.73" font-weight="400" fill="#111">50A</text>
<text transform="translate(1437.03 904.80) scale(1.0850 1)" font-size="25.73" font-weight="400" fill="#111">64A</text>
<text transform="translate(1557.23 904.80) scale(1.0850 1)" font-size="25.73" font-weight="400" fill="#111">60A</text>
<text transform="translate(1432.98 971.30) scale(0.9541 1)" font-size="25.73" font-weight="400" fill="#111">103A</text>
<text transform="translate(1557.98 971.30) scale(1.0578 1)" font-size="25.73" font-weight="400" fill="#111">85A</text>
<text transform="translate(1437.15 1036.30) scale(1.0826 1)" font-size="25.73" font-weight="400" fill="#111">90A</text>
<text transform="translate(1557.98 1036.30) scale(1.0578 1)" font-size="25.73" font-weight="400" fill="#111">85A</text>
<text transform="translate(1432.44 1104.30) scale(0.9715 1)" font-size="25.73" font-weight="400" fill="#111">100A</text>
<text transform="translate(1557.35 1104.30) scale(1.0826 1)" font-size="25.73" font-weight="400" fill="#111">90A</text>
<text transform="translate(1432.98 1170.80) scale(0.9541 1)" font-size="25.73" font-weight="400" fill="#111">168A</text>
<text transform="translate(1553.18 1170.80) scale(0.9541 1)" font-size="25.73" font-weight="400" fill="#111">150A</text>
<text transform="translate(1432.98 1236.90) scale(0.9541 1)" font-size="25.73" font-weight="400" fill="#111">150A</text>
<text transform="translate(1553.85 1236.90) scale(0.9323 1)" font-size="25.73" font-weight="400" fill="#111">125A</text>
<text transform="translate(1432.98 1302.80) scale(0.9541 1)" font-size="25.73" font-weight="400" fill="#111">188A</text>
<text transform="translate(1554.53 1302.80) scale(0.9105 1)" font-size="25.73" font-weight="400" fill="#111">175A</text>
<text transform="translate(1429.60 1368.90) scale(1.0746 1)" font-size="25.73" font-weight="400" fill="#111">246A</text>
<text transform="translate(1550.72 1368.90) scale(1.0445 1)" font-size="25.73" font-weight="400" fill="#111">225A</text>
<text transform="translate(1430.26 1435.10) scale(1.0531 1)" font-size="25.73" font-weight="400" fill="#111">292A</text>
<text transform="translate(1551.38 1435.10) scale(1.0229 1)" font-size="25.73" font-weight="400" fill="#111">275A</text>
<text transform="translate(1429.55 1500.30) scale(1.0818 1)" font-size="25.73" font-weight="400" fill="#111">300A</text>
<text transform="translate(1549.75 1500.30) scale(1.0818 1)" font-size="25.73" font-weight="400" fill="#111">300A</text>
<text transform="translate(1430.07 1566.30) scale(1.0646 1)" font-size="25.73" font-weight="400" fill="#111">350A</text>
<text transform="translate(1550.27 1566.30) scale(1.0646 1)" font-size="25.73" font-weight="400" fill="#111">350A</text>
<text transform="translate(1682.52 642.80) scale(1.0678 1)" font-size="25.73" font-weight="400" fill="#111">49A</text>
<text transform="translate(1802.36 642.80) scale(1.0790 1)" font-size="25.73" font-weight="400" fill="#111">40A</text>
<text transform="translate(1682.78 708.30) scale(1.0566 1)" font-size="25.73" font-weight="400" fill="#111">45A</text>
<text transform="translate(1802.36 708.30) scale(1.0790 1)" font-size="25.73" font-weight="400" fill="#111">40A</text>
<text transform="translate(1682.52 774.80) scale(1.0678 1)" font-size="25.73" font-weight="400" fill="#111">46A</text>
<text transform="translate(1802.36 774.80) scale(1.0790 1)" font-size="25.73" font-weight="400" fill="#111">40A</text>
<text transform="translate(1682.57 839.80) scale(1.0557 1)" font-size="25.73" font-weight="400" fill="#111">59A</text>
<text transform="translate(1802.41 839.80) scale(1.0670 1)" font-size="25.73" font-weight="400" fill="#111">50A</text>
<text transform="translate(1681.73 904.80) scale(1.0850 1)" font-size="25.73" font-weight="400" fill="#111">64A</text>
<text transform="translate(1801.83 904.80) scale(1.0850 1)" font-size="25.73" font-weight="400" fill="#111">60A</text>
<text transform="translate(1677.68 971.30) scale(0.9541 1)" font-size="25.73" font-weight="400" fill="#111">103A</text>
<text transform="translate(1802.58 971.30) scale(1.0578 1)" font-size="25.73" font-weight="400" fill="#111">85A</text>
<text transform="translate(1681.85 1036.30) scale(1.0826 1)" font-size="25.73" font-weight="400" fill="#111">90A</text>
<text transform="translate(1802.58 1036.30) scale(1.0578 1)" font-size="25.73" font-weight="400" fill="#111">85A</text>
<text transform="translate(1677.14 1104.30) scale(0.9715 1)" font-size="25.73" font-weight="400" fill="#111">100A</text>
<text transform="translate(1801.95 1104.30) scale(1.0826 1)" font-size="25.73" font-weight="400" fill="#111">90A</text>
<text transform="translate(1677.68 1170.80) scale(0.9541 1)" font-size="25.73" font-weight="400" fill="#111">168A</text>
<text transform="translate(1797.78 1170.80) scale(0.9541 1)" font-size="25.73" font-weight="400" fill="#111">150A</text>
<text transform="translate(1677.68 1236.90) scale(0.9541 1)" font-size="25.73" font-weight="400" fill="#111">150A</text>
<text transform="translate(1798.45 1236.90) scale(0.9323 1)" font-size="25.73" font-weight="400" fill="#111">125A</text>
<text transform="translate(1677.68 1302.80) scale(0.9541 1)" font-size="25.73" font-weight="400" fill="#111">188A</text>
<text transform="translate(1799.13 1302.80) scale(0.9105 1)" font-size="25.73" font-weight="400" fill="#111">175A</text>
<text transform="translate(1674.30 1368.90) scale(1.0746 1)" font-size="25.73" font-weight="400" fill="#111">246A</text>
<text transform="translate(1795.32 1368.90) scale(1.0445 1)" font-size="25.73" font-weight="400" fill="#111">225A</text>
<text transform="translate(1674.96 1435.10) scale(1.0531 1)" font-size="25.73" font-weight="400" fill="#111">292A</text>
<text transform="translate(1795.98 1435.10) scale(1.0229 1)" font-size="25.73" font-weight="400" fill="#111">275A</text>
<text transform="translate(1674.25 1500.30) scale(1.0818 1)" font-size="25.73" font-weight="400" fill="#111">300A</text>
<text transform="translate(1794.35 1500.30) scale(1.0818 1)" font-size="25.73" font-weight="400" fill="#111">300A</text>
<text transform="translate(1674.77 1566.30) scale(1.0646 1)" font-size="25.73" font-weight="400" fill="#111">350A</text>
<text transform="translate(1794.87 1566.30) scale(1.0646 1)" font-size="25.73" font-weight="400" fill="#111">350A</text>
<g transform="translate(89.8 1079) rotate(-90)">
<text transform="translate(-1.42 0.00) scale(0.9541 1)" font-size="36.34" font-weight="700" fill="#000">Cable</text>
<text transform="translate(102.98 0.00) scale(1.0707 1)" font-size="36.34" font-weight="700" fill="#000">Size</text>
<text transform="translate(185.82 -1.50) scale(0.9988 1)" font-size="41.86" font-weight="700" fill="#000">(</text>
<text transform="translate(200.38 0.00) scale(1.1372 1)" font-size="36.34" font-weight="700" fill="#000">mm</text>
<text transform="translate(274.02 -11.30) scale(0.9697 1)" font-size="20.35" font-weight="700" fill="#000">2</text>
<text transform="translate(286.06 -1.50) scale(1.0073 1)" font-size="41.86" font-weight="700" fill="#000">)</text>
</g>
<text transform="translate(1434.47 1680.80) scale(0.9806 1)" font-size="18.17" font-weight="400" fill="#111">ALVOLTA - BUILT FOR POWER</text>
<text x="1701.28" y="1679.60" font-size="21.50" font-weight="400" fill="#111">|</text>
<text transform="translate(1712.53 1680.80) scale(1.1600 1)" font-size="18.17" font-weight="400" fill="#111" letter-spacing="0.236">www.alvolta.com.au</text>
</svg>
</body>
</html>
